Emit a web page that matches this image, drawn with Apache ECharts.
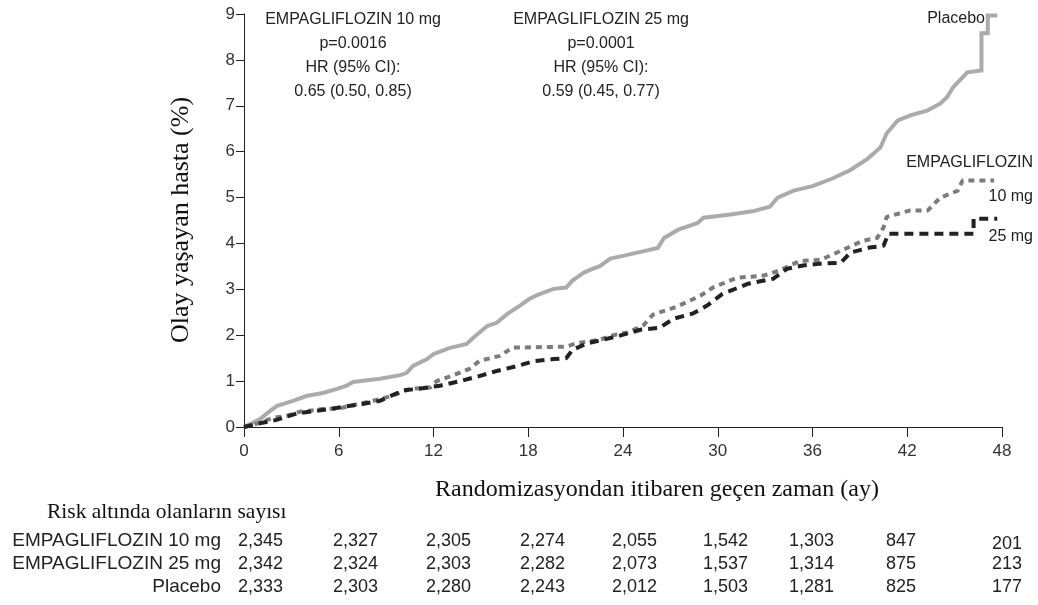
<!DOCTYPE html>
<html>
<head>
<meta charset="utf-8">
<script src="https://cdn.jsdelivr.net/npm/echarts@6/dist/echarts.min.js"></script>
<style>
html,body{margin:0;padding:0;background:#fff;}
#c{width:1038px;height:605px;}
</style>
</head>
<body>
<div id="c"></div>
<script>
// ---- data ----
const xTicks = [0, 6, 12, 18, 24, 30, 36, 42, 48];
const yTicks = [0, 1, 2, 3, 4, 5, 6, 7, 8, 9];

const placeboMonths = [0,1.0,1.65,2.1,3.1,4.0,5.0,5.9,6.5,6.9,8.6,9.9,10.3,10.7,11.6,12.0,13.0,14.1,14.5,15.4,16.0,16.7,17.5,18.1,18.6,19.6,20.4,20.8,21.5,22.1,22.5,23.2,24.0,24.9,26.2,26.6,27.5,28.7,29.1,30.8,32.2,33.3,33.8,34.8,36.0,37.3,38.4,39.5,40.3,40.7,41.4,42.2,43.3,44.1,44.5,44.9,45.5,45.8,46.7,46.7,47.1,47.1,47.7];
const placeboPct    = [0,0.17,0.35,0.46,0.57,0.68,0.74,0.83,0.90,0.98,1.05,1.13,1.18,1.33,1.48,1.59,1.72,1.81,1.94,2.20,2.27,2.47,2.65,2.80,2.88,3.01,3.04,3.19,3.36,3.45,3.50,3.67,3.73,3.80,3.90,4.12,4.30,4.44,4.56,4.63,4.70,4.80,5.00,5.15,5.25,5.42,5.60,5.85,6.09,6.40,6.68,6.79,6.90,7.05,7.18,7.40,7.62,7.73,7.77,8.58,8.58,8.97,8.97];

const emp10Months = [0,1.0,1.8,2.7,3.5,5.0,6.1,7.2,8.4,9.4,10.5,11.8,12.2,13.2,14.3,14.9,16.2,17.0,20.4,21.1,22.5,23.6,24.3,25.3,25.9,27.4,28.9,29.7,31.2,32.9,33.9,35.2,36.5,37.8,39.2,40.1,40.5,40.7,42.2,43.3,44.1,45.2,45.5,47.5];
const emp10Pct    = [0,0.09,0.20,0.24,0.33,0.39,0.41,0.50,0.59,0.68,0.83,0.86,1.00,1.12,1.27,1.44,1.55,1.73,1.75,1.83,1.90,2.02,2.06,2.22,2.45,2.62,2.86,3.04,3.25,3.30,3.41,3.62,3.64,3.84,4.06,4.12,4.35,4.58,4.72,4.72,5.00,5.15,5.37,5.37];

const emp25Months = [0,1.0,2.0,3.4,5.4,6.5,7.5,8.6,10.1,11.0,12.4,13.7,14.9,16.0,17.3,18.3,19.6,20.4,20.8,21.7,22.7,23.8,25.1,26.3,27.2,28.4,29.3,30.3,31.9,33.5,34.4,35.4,36.5,37.8,38.4,39.6,40.5,40.8,46.2,46.2,47.7];
const emp25Pct    = [0,0.08,0.15,0.30,0.39,0.45,0.50,0.57,0.80,0.83,0.90,1.00,1.11,1.22,1.33,1.43,1.48,1.50,1.68,1.82,1.90,1.99,2.12,2.16,2.36,2.47,2.64,2.90,3.12,3.23,3.45,3.52,3.56,3.58,3.80,3.91,3.95,4.21,4.21,4.54,4.54];

const annot10 = ["EMPAGLIFLOZIN 10 mg", "p=0.0016", "HR (95% CI):", "0.65 (0.50, 0.85)"];
const annot25 = ["EMPAGLIFLOZIN 25 mg", "p=0.0001", "HR (95% CI):", "0.59 (0.45, 0.77)"];

const xTitle = "Randomizasyondan itibaren geçen zaman (ay)";
const yTitle = "Olay yaşayan hasta (%)";

const riskTitle = "Risk altında olanların sayısı";
const riskRowLabels = ["EMPAGLIFLOZIN 10 mg", "EMPAGLIFLOZIN 25 mg", "Placebo"];
const riskEmp10   = ["2,345","2,327","2,305","2,274","2,055","1,542","1,303","847","201"];
const riskEmp25   = ["2,342","2,324","2,303","2,282","2,073","1,537","1,314","875","213"];
const riskPlacebo = ["2,333","2,303","2,280","2,243","2,012","1,503","1,281","825","177"];

// ---- layout (not data) ----
const SANS = "'Liberation Sans', Arial, sans-serif";
const SERIF = "'Liberation Serif', 'Times New Roman', serif";
const riskColX = [238, 333, 426, 520, 612, 703, 789, 886, 992];
const riskRowY = [541, 564, 587];

function pairs(xs, ys){ return xs.map((x,i)=>[x, ys[i]]); }

const chart = echarts.init(document.getElementById('c'), null, {renderer:'canvas'});

const graphics = [];
annot10.forEach((t,i)=>graphics.push({type:'text', x:353, y:20+i*23.7, style:{text:t, font:'16px '+SANS, fill:'#222', textAlign:'center', textVerticalAlign:'middle'}}));
annot25.forEach((t,i)=>graphics.push({type:'text', x:601, y:20+i*23.7, style:{text:t, font:'16px '+SANS, fill:'#222', textAlign:'center', textVerticalAlign:'middle'}}));
graphics.push({type:'text', x:985, y:19, style:{text:'Placebo', font:'16px '+SANS, fill:'#222', textAlign:'right', textVerticalAlign:'middle'}});
graphics.push({type:'text', x:1033, y:163, style:{text:'EMPAGLIFLOZIN', font:'16px '+SANS, fill:'#222', textAlign:'right', textVerticalAlign:'middle'}});
graphics.push({type:'text', x:1033, y:197, style:{text:'10 mg', font:'16px '+SANS, fill:'#222', textAlign:'right', textVerticalAlign:'middle'}});
graphics.push({type:'text', x:1033, y:237, style:{text:'25 mg', font:'16px '+SANS, fill:'#222', textAlign:'right', textVerticalAlign:'middle'}});
graphics.push({type:'text', x:657, y:490, style:{text:xTitle, font:'24px '+SERIF, fill:'#111', textAlign:'center', textVerticalAlign:'middle'}});
graphics.push({type:'text', x:181, y:220, rotation:Math.PI/2, style:{text:yTitle, font:'26px '+SERIF, fill:'#111', textAlign:'center', textVerticalAlign:'middle'}});
graphics.push({type:'text', x:47, y:512, style:{text:riskTitle, font:'21.5px '+SERIF, fill:'#111', textAlign:'left', textVerticalAlign:'middle'}});
const riskRows = [riskEmp10, riskEmp25, riskPlacebo];
riskRowLabels.forEach((lab,r)=>{
  graphics.push({type:'text', x:221, y:riskRowY[r], style:{text:lab, font:'19px '+SANS, fill:'#222', textAlign:'right', textVerticalAlign:'middle'}});
  riskRows[r].forEach((v,c)=>{
    graphics.push({type:'text', x:riskColX[c], y:riskRowY[r] + (c===8 && r===0 ? 3 : 0), style:{text:v, font:'18px '+SANS, fill:'#222', textAlign:'left', textVerticalAlign:'middle'}});
  });
});

chart.setOption({
  animation:false,
  backgroundColor:'#fff',
  grid:{left:244, right:36, top:14, bottom:178, containLabel:false},
  xAxis:{
    type:'value', min:0, max:48, interval:6,
    axisLine:{lineStyle:{color:'#222', width:1}},
    axisTick:{show:true, length:10, lineStyle:{color:'#222'}},
    axisLabel:{fontFamily:SANS, fontSize:17, color:'#333', margin:16, formatter:(v)=>xTicks.includes(v)?String(v):''},
    splitLine:{show:false}
  },
  yAxis:{
    type:'value', min:0, max:9, interval:1,
    axisLine:{show:true, lineStyle:{color:'#222', width:1}},
    axisTick:{show:true, length:8, lineStyle:{color:'#222'}},
    axisLabel:{fontFamily:SANS, fontSize:17, color:'#333', margin:9, formatter:(v)=>yTicks.includes(v)?String(v):''},
    splitLine:{show:false}
  },
  series:[
    {name:'Placebo', type:'line', data:pairs(placeboMonths, placeboPct), showSymbol:false, symbol:'none',
     lineStyle:{color:'#ababab', width:4, type:'solid', join:'miter'}, z:3},
    {name:'EMPAGLIFLOZIN 10 mg', type:'line', data:pairs(emp10Months, emp10Pct), showSymbol:false, symbol:'none',
     lineStyle:{color:'#7c7c7c', width:4, type:[6,5]}, z:4},
    {name:'EMPAGLIFLOZIN 25 mg', type:'line', data:pairs(emp25Months, emp25Pct), showSymbol:false, symbol:'none',
     lineStyle:{color:'#222', width:4, type:[9,6]}, z:5}
  ],
  graphic:graphics
});
</script>
</body>
</html>
